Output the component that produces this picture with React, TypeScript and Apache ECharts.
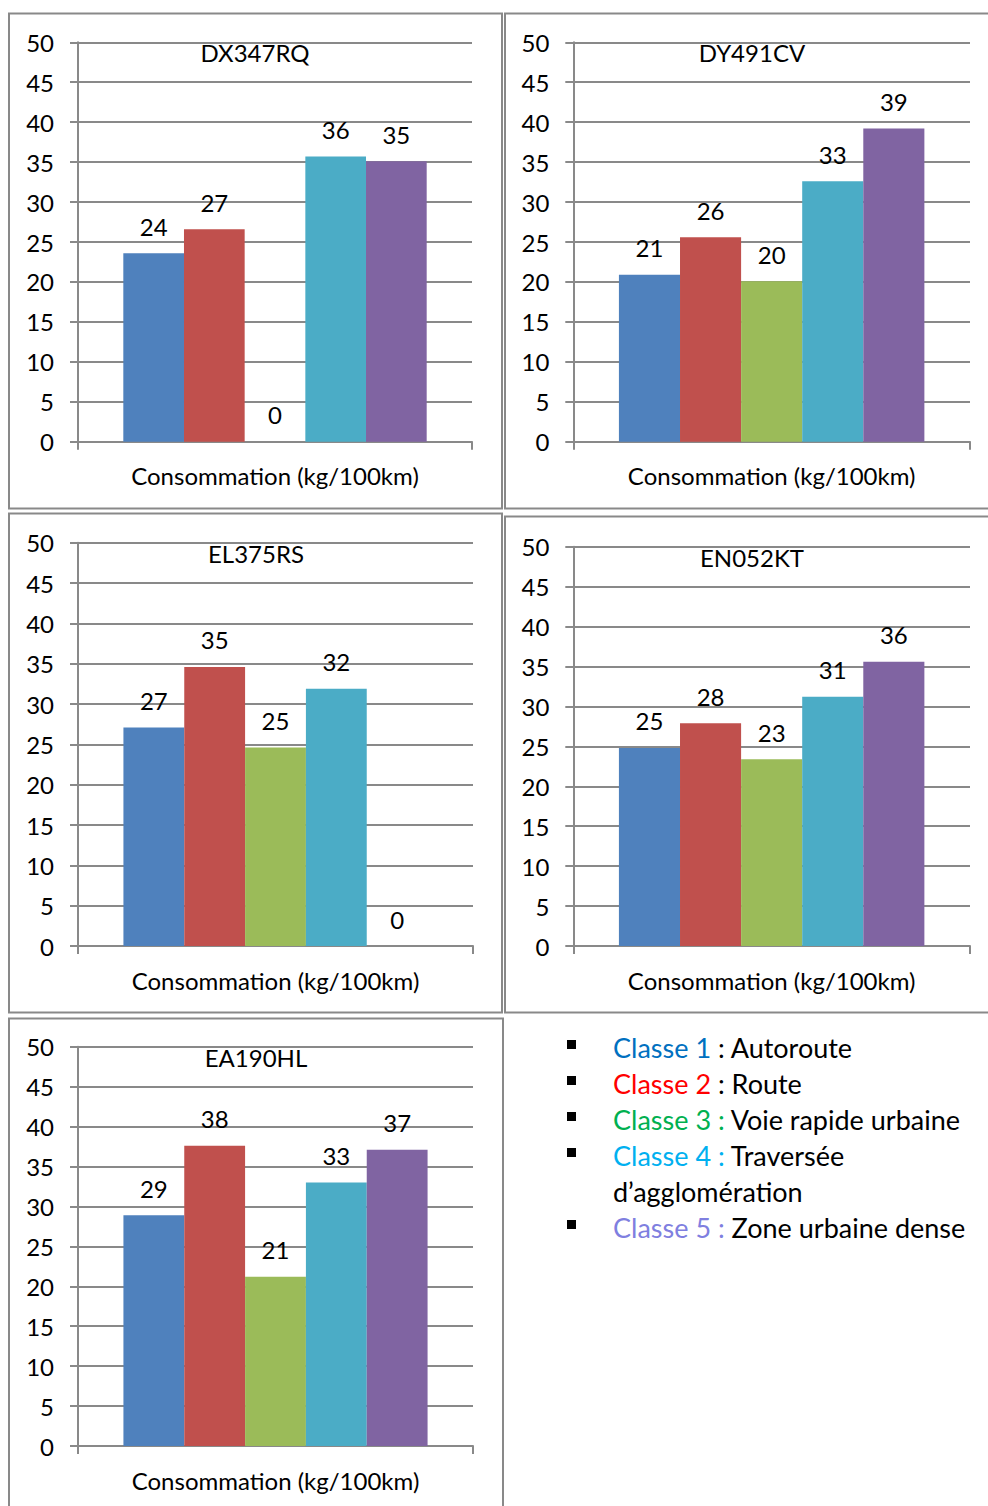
import React, { useEffect, useRef } from "react";
import * as echarts from "echarts";

// ---- Data ----
const vehicles = ["DX347RQ", "DY491CV", "EL375RS", "EN052KT", "EA190HL"];
const xCategory = ["Consommation (kg/100km)"];
const classe1 = [23.6, 20.9, 27.1, 24.8, 28.9];
const classe2 = [26.6, 25.6, 34.6, 27.9, 37.6];
const classe3 = [0, 20.1, 24.6, 23.4, 21.2];
const classe4 = [35.7, 32.6, 31.9, 31.2, 33.0];
const classe5 = [35.1, 39.2, 0, 35.6, 37.1];
const classValues = [classe1, classe2, classe3, classe4, classe5];
const classNames = ["Classe 1", "Classe 2", "Classe 3", "Classe 4", "Classe 5"];
const classDescriptions = ["Autoroute", "Route", "Voie rapide urbaine", "Traversée", "Zone urbaine dense"];
const yMin = 0;
const yMax = 50;
const yInterval = 5;

// ---- Styles ----
const barColors = ["#4F81BD", "#C0504D", "#9BBB59", "#4BACC6", "#8064A2"];
const legendColors = ["#0070C0", "#FF0000", "#00B050", "#00B0F0", "#7F7FE0"];
const FONT = "Lato, 'Open Sans', sans-serif";
const FS = 24;
const GRAY = "#898989";

const grids = [
  { left: 78, top: 42.3, width: 394, height: 399.4 },
  { left: 573.3, top: 42.3, width: 396.7, height: 399.4 },
  { left: 78, top: 542.7, width: 395, height: 403.3 },
  { left: 573.3, top: 546.7, width: 396.7, height: 399.3 },
  { left: 78, top: 1046.7, width: 395, height: 399.3 },
];
const titlePos = [
  [255, 52],
  [752, 52],
  [256, 553],
  [752, 557],
  [256, 1057],
];
const panels = [
  { x: 9, y: 13.5, w: 493, h: 495 },
  { x: 505, y: 13.5, w: 495, h: 495 },
  { x: 9, y: 513.5, w: 493, h: 499 },
  { x: 505, y: 516.5, w: 495, h: 496 },
  { x: 9, y: 1018.5, w: 494, h: 500 },
];

export default function App() {
  const ref = useRef<HTMLDivElement>(null);
  useEffect(() => {
    if (!ref.current) return;
    const chart = echarts.init(ref.current, null, { renderer: "svg" });

    const xAxis = vehicles.map((_, i) => ({
      type: "category",
      gridIndex: i,
      data: xCategory,
      boundaryGap: true,
      axisLine: { show: true, lineStyle: { color: GRAY, width: 2 } },
      axisTick: { show: true, length: 8, alignWithLabel: false, lineStyle: { color: GRAY, width: 2 } },
      axisLabel: { margin: 22, fontSize: FS, fontFamily: FONT, color: "#000" },
      splitLine: { show: false },
    }));
    const yAxis = vehicles.map((_, i) => ({
      type: "value",
      gridIndex: i,
      min: yMin,
      max: yMax,
      interval: yInterval,
      axisLine: { show: true, lineStyle: { color: GRAY, width: 2 } },
      axisTick: { show: true, length: 8, lineStyle: { color: GRAY, width: 2 } },
      axisLabel: { margin: 24, fontSize: FS, fontFamily: FONT, color: "#000" },
      splitLine: { show: true, lineStyle: { color: GRAY, width: 2 } },
    }));

    const series: any[] = [];
    vehicles.forEach((v, i) => {
      classValues.forEach((vals, c) => {
        series.push({
          type: "bar",
          name: classNames[c],
          xAxisIndex: i,
          yAxisIndex: i,
          data: [vals[i]],
          barGap: "0%",
          barCategoryGap: "23%",
          itemStyle: { color: barColors[c] },
          label: {
            show: true,
            position: "top",
            distance: 15,
            formatter: (p: any) => String(Math.round(p.value)),
            fontSize: FS,
            fontFamily: FONT,
            color: "#000",
          },
        });
      });
    });

    const graphic: any[] = [];
    panels.forEach((p) => {
      graphic.push({
        type: "rect",
        shape: { x: p.x, y: p.y, width: p.w, height: p.h },
        style: { fill: "none", stroke: GRAY, lineWidth: 2 },
        silent: true,
      });
    });
    vehicles.forEach((v, i) => {
      graphic.push({
        type: "text",
        x: titlePos[i][0],
        y: titlePos[i][1],
        style: {
          text: v,
          align: "center",
          verticalAlign: "middle",
          fontSize: FS,
          fontFamily: FONT,
          fill: "#000",
        },
      });
    });

    // Legend (text block)
    const LFS = 27;
    const lineY = [1047, 1083, 1119, 1155, 1227];
    classNames.forEach((name, c) => {
      const colonColored = c >= 2;
      const head = colonColored ? `{c|${name} :}` : `{c|${name}} :`;
      graphic.push({
        type: "rect",
        shape: { x: 567, y: lineY[c] - 7, width: 9, height: 9 },
        style: { fill: "#000" },
      });
      graphic.push({
        type: "text",
        x: 613,
        y: lineY[c],
        style: {
          text: `${head} ${classDescriptions[c]}`,
          verticalAlign: "middle",
          fontSize: LFS,
          fontFamily: FONT,
          fill: "#000",
          rich: { c: { fill: legendColors[c], fontSize: LFS, fontFamily: FONT } },
        },
      });
    });
    graphic.push({
      type: "text",
      x: 613,
      y: 1191,
      style: {
        text: "d’agglomération",
        verticalAlign: "middle",
        fontSize: LFS,
        fontFamily: FONT,
        fill: "#000",
      },
    });

    chart.setOption({
      animation: false,
      backgroundColor: "#fff",
      grid: grids,
      xAxis,
      yAxis,
      series,
      graphic,
    });
    return () => chart.dispose();
  }, []);

  return (
    <div
      ref={ref}
      style={{ position: "absolute", left: 0, top: 0, width: 988, height: 1506 }}
    />
  );
}
